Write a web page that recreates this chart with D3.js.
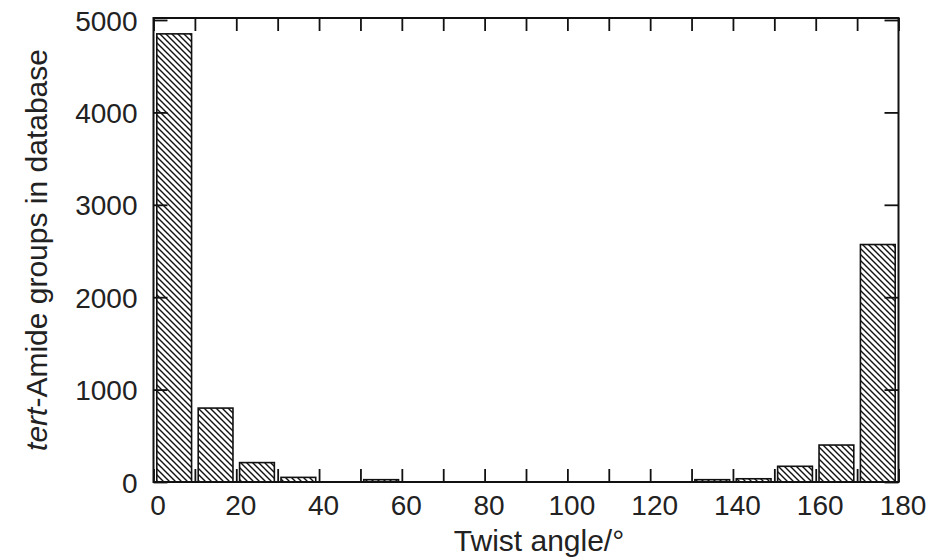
<!DOCTYPE html>
<html>
<head>
<meta charset="utf-8">
<script src="https://cdn.jsdelivr.net/npm/d3@7"></script>
<style>
  body { margin: 0; background: #fff; }
  text { font-family: "Liberation Sans", Arial, Helvetica, sans-serif; fill: #222; }
</style>
</head>
<body>
<div id="chart"></div>
<script>
// Histogram bins (lower edge of each 10 degree bin) and counts.
const binStarts = [0, 10, 20, 30, 40, 50, 60, 70, 80, 90, 100, 110, 120, 130, 140, 150, 160, 170];
const counts = [4850, 800, 210, 50, 0, 25, 0, 0, 0, 0, 0, 0, 0, 25, 35, 170, 400, 2570];
const xTickLabels = [0, 20, 40, 60, 80, 100, 120, 140, 160, 180];
const yTickLabels = [0, 1000, 2000, 3000, 4000, 5000];

const width = 926;
const height = 559;
const marginTop = 18;
const marginRight = 27.5;
const marginBottom = 77;
const marginLeft = 153.5;
const binWidth = 10;

const x = d3.scaleLinear()
    .domain([0, 180])
    .range([marginLeft, width - marginRight]);

const y = d3.scaleLinear()
    .domain([0, 5000])
    .range([height - marginBottom, marginTop + 2]);

const svg = d3.select("#chart").append("svg")
    .attr("width", width)
    .attr("height", height)
    .attr("viewBox", [0, 0, width, height]);

// Diagonal hatch used to fill the bars.
svg.append("defs").append("pattern")
    .attr("id", "hatch")
    .attr("patternUnits", "userSpaceOnUse")
    .attr("width", 6)
    .attr("height", 6)
    .append("path")
    .attr("d", "M-1,-1L7,7M-1,5L1,7M5,-1L7,1")
    .attr("stroke", "#111")
    .attr("stroke-width", 1.4);

const bins = binStarts.map((b, i) => ({start: b, value: counts[i]}));

// Bars (empty bins are not drawn).
svg.append("g")
    .selectAll("rect")
    .data(bins.filter(d => d.value > 0))
    .join("rect")
    .attr("x", d => x(d.start + 0.8))
    .attr("width", d => x(d.start + binWidth - 0.8) - x(d.start + 0.8))
    .attr("y", d => y(d.value))
    .attr("height", d => y(0) - y(d.value))
    .attr("fill", "url(#hatch)")
    .attr("stroke", "#111")
    .attr("stroke-width", 1.6);

const xTicks = d3.range(0, 181, 10);
const fmtX = d => xTickLabels.includes(d) ? d : "";

// Bottom axis with inward ticks and labels.
svg.append("g")
    .attr("transform", `translate(0,${height - marginBottom})`)
    .call(d3.axisBottom(x).tickValues(xTicks).tickFormat(fmtX)
        .tickSizeInner(-13).tickSizeOuter(0).tickPadding(13))
    .call(g => g.select(".domain").remove())
    .call(g => g.selectAll(".tick line").attr("stroke", "#111").attr("stroke-width", 1.8))
    .call(g => g.selectAll(".tick text")
        .attr("dx", 4)
        .style("font-size", "28px"));

// Top axis, ticks only.
svg.append("g")
    .attr("transform", `translate(0,${marginTop})`)
    .call(d3.axisTop(x).tickValues(xTicks).tickFormat("")
        .tickSizeInner(-13).tickSizeOuter(0))
    .call(g => g.select(".domain").remove())
    .call(g => g.selectAll(".tick line").attr("stroke", "#111").attr("stroke-width", 1.8));

// Left axis with labels.
svg.append("g")
    .attr("transform", `translate(${marginLeft},0)`)
    .call(d3.axisLeft(y).tickValues(yTickLabels).tickFormat(d3.format("d"))
        .tickSizeInner(-14).tickSizeOuter(0).tickPadding(16))
    .call(g => g.select(".domain").remove())
    .call(g => g.selectAll(".tick line").attr("stroke", "#111").attr("stroke-width", 1.8))
    .call(g => g.selectAll(".tick text")
        .attr("dy", "0.36em")
        .style("font-size", "28px"));

// Right axis, ticks only.
svg.append("g")
    .attr("transform", `translate(${width - marginRight},0)`)
    .call(d3.axisRight(y).tickValues(yTickLabels).tickFormat("")
        .tickSizeInner(-14).tickSizeOuter(0))
    .call(g => g.select(".domain").remove())
    .call(g => g.selectAll(".tick line").attr("stroke", "#111").attr("stroke-width", 1.8));

// Frame around the plot area.
svg.append("rect")
    .attr("x", marginLeft)
    .attr("y", marginTop)
    .attr("width", width - marginLeft - marginRight)
    .attr("height", height - marginTop - marginBottom)
    .attr("fill", "none")
    .attr("stroke", "#111")
    .attr("stroke-width", 2);

// Axis titles.
svg.append("text")
    .attr("x", (marginLeft + width - marginRight) / 2 + 13)
    .attr("y", 551)
    .attr("text-anchor", "middle")
    .style("font-size", "30px")
    .text("Twist angle/°");

const yTitle = svg.append("text")
    .attr("transform", `translate(47,250) rotate(-90)`)
    .attr("text-anchor", "middle")
    .style("font-size", "30px");
yTitle.append("tspan").style("font-style", "italic").text("tert");
yTitle.append("tspan").text("-Amide groups in database");
</script>
</body>
</html>
